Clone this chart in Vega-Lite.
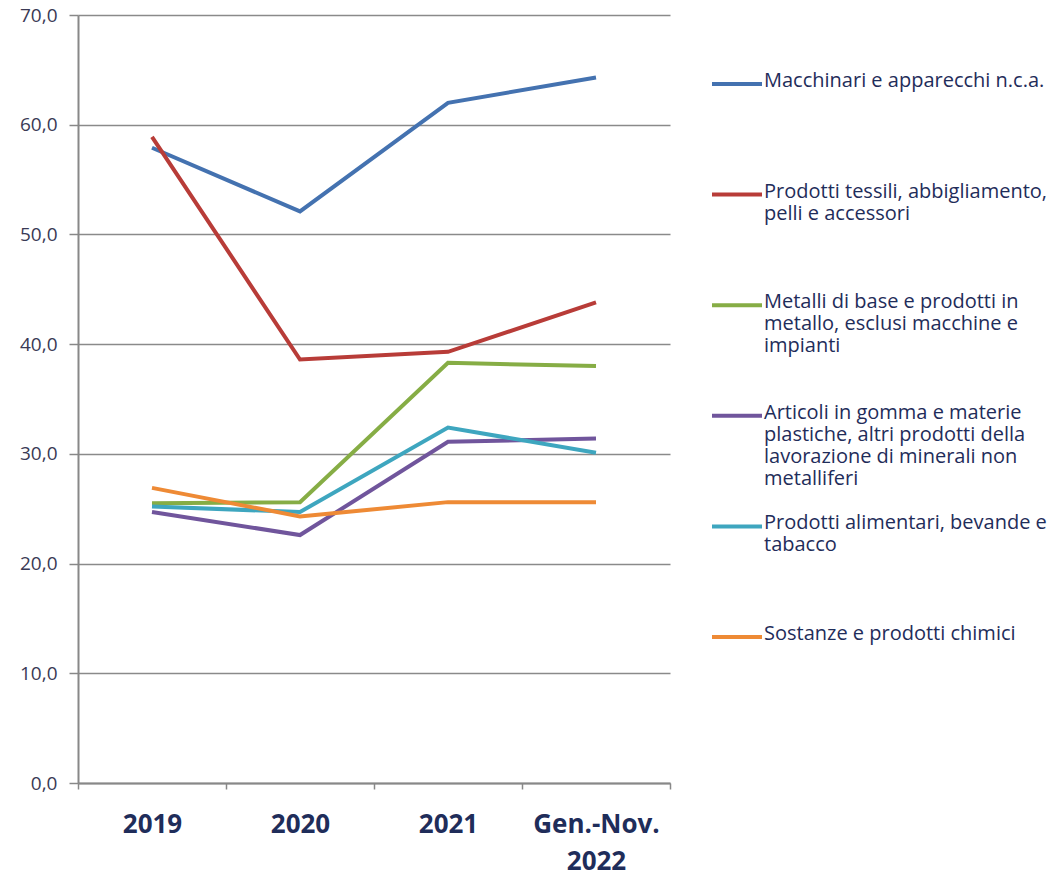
{
  "$schema": "https://vega.github.io/schema/vega-lite/v6.json",
  "width": 592,
  "height": 768,
  "autosize": {"type": "none"},
  "padding": {"left": 78, "top": 15, "right": 385, "bottom": 94},
  "background": "white",
  "config": {
    "view": {"stroke": null},
    "font": "Open Sans"
  },
  "data": {
    "values": [
      {"anno": "2019", "settore": "Macchinari e apparecchi n.c.a.", "valore": 57.9},
      {"anno": "2020", "settore": "Macchinari e apparecchi n.c.a.", "valore": 52.1},
      {"anno": "2021", "settore": "Macchinari e apparecchi n.c.a.", "valore": 62.0},
      {"anno": "Gen.-Nov. 2022", "settore": "Macchinari e apparecchi n.c.a.", "valore": 64.3},
      {"anno": "2019", "settore": "Prodotti tessili, abbigliamento, pelli e accessori", "valore": 58.9},
      {"anno": "2020", "settore": "Prodotti tessili, abbigliamento, pelli e accessori", "valore": 38.6},
      {"anno": "2021", "settore": "Prodotti tessili, abbigliamento, pelli e accessori", "valore": 39.3},
      {"anno": "Gen.-Nov. 2022", "settore": "Prodotti tessili, abbigliamento, pelli e accessori", "valore": 43.8},
      {"anno": "2019", "settore": "Metalli di base e prodotti in metallo, esclusi macchine e impianti", "valore": 25.5},
      {"anno": "2020", "settore": "Metalli di base e prodotti in metallo, esclusi macchine e impianti", "valore": 25.6},
      {"anno": "2021", "settore": "Metalli di base e prodotti in metallo, esclusi macchine e impianti", "valore": 38.3},
      {"anno": "Gen.-Nov. 2022", "settore": "Metalli di base e prodotti in metallo, esclusi macchine e impianti", "valore": 38.0},
      {"anno": "2019", "settore": "Articoli in gomma e materie plastiche, altri prodotti della lavorazione di minerali non metalliferi", "valore": 24.7},
      {"anno": "2020", "settore": "Articoli in gomma e materie plastiche, altri prodotti della lavorazione di minerali non metalliferi", "valore": 22.6},
      {"anno": "2021", "settore": "Articoli in gomma e materie plastiche, altri prodotti della lavorazione di minerali non metalliferi", "valore": 31.1},
      {"anno": "Gen.-Nov. 2022", "settore": "Articoli in gomma e materie plastiche, altri prodotti della lavorazione di minerali non metalliferi", "valore": 31.4},
      {"anno": "2019", "settore": "Prodotti alimentari, bevande e tabacco", "valore": 25.2},
      {"anno": "2020", "settore": "Prodotti alimentari, bevande e tabacco", "valore": 24.7},
      {"anno": "2021", "settore": "Prodotti alimentari, bevande e tabacco", "valore": 32.4},
      {"anno": "Gen.-Nov. 2022", "settore": "Prodotti alimentari, bevande e tabacco", "valore": 30.1},
      {"anno": "2019", "settore": "Sostanze e prodotti chimici", "valore": 26.9},
      {"anno": "2020", "settore": "Sostanze e prodotti chimici", "valore": 24.3},
      {"anno": "2021", "settore": "Sostanze e prodotti chimici", "valore": 25.6},
      {"anno": "Gen.-Nov. 2022", "settore": "Sostanze e prodotti chimici", "valore": 25.6}
    ]
  },
  "mark": {"type": "line", "strokeWidth": 4, "strokeJoin": "miter"},
  "encoding": {
    "x": {
      "field": "anno",
      "type": "ordinal",
      "bandPosition": 0.5,
      "sort": ["2019", "2020", "2021", "Gen.-Nov. 2022"],
      "scale": {"type": "band", "paddingInner": 0, "paddingOuter": 0},
      "axis": {
        "title": null,
        "labelAngle": 0,
        "tickBand": "extent",
        "domainColor": "#888888",
        "domainWidth": 2,
        "tickColor": "#888888",
        "tickWidth": 1.5,
        "tickSize": 6,
        "labelFont": "Open Sans",
        "labelFontSize": 26,
        "labelFontWeight": "bold",
        "labelColor": "#1f2d5a",
        "labelPadding": 22,
        "labelLineHeight": 37,
        "labelBaseline": "top",
        "labelExpr": "datum.value == 'Gen.-Nov. 2022' ? ['Gen.-Nov.', '2022'] : datum.label",
        "grid": false
      }
    },
    "y": {
      "field": "valore",
      "type": "quantitative",
      "scale": {"domain": [0, 70], "nice": false},
      "axis": {
        "title": null,
        "values": [0, 10, 20, 30, 40, 50, 60, 70],
        "labelExpr": "replace(format(datum.value, '.1f'), '.', ',')",
        "labelFont": "Open Sans",
        "labelFontSize": 19,
        "labelColor": "#3a3a55",
        "labelPadding": 12,
        "tickSize": 9,
        "tickColor": "#888888",
        "tickWidth": 1.5,
        "domainColor": "#888888",
        "domainWidth": 2,
        "grid": true,
        "gridColor": "#8a8a8a",
        "gridWidth": 1.5
      }
    },
    "color": {
      "field": "settore",
      "type": "nominal",
      "scale": {
        "domain": [
          "Macchinari e apparecchi n.c.a.",
          "Prodotti tessili, abbigliamento, pelli e accessori",
          "Metalli di base e prodotti in metallo, esclusi macchine e impianti",
          "Articoli in gomma e materie plastiche, altri prodotti della lavorazione di minerali non metalliferi",
          "Prodotti alimentari, bevande e tabacco",
          "Sostanze e prodotti chimici"
        ],
        "range": ["#4472b0", "#b83c38", "#86ad45", "#70559c", "#3ea6bf", "#ee8a35"]
      },
      "legend": {
        "title": null,
        "orient": "none",
        "legendX": 632,
        "legendY": 42,
        "symbolType": "stroke",
        "symbolStrokeWidth": 4,
        "symbolSize": 2500,
        "labelFont": "Open Sans",
        "labelFontSize": 20,
        "labelColor": "#1f2d5a",
        "labelLimit": 0,
        "labelOffset": 0,
        "labelBaseline": "top",
        "labelLineHeight": 26,
        "gridAlign": "all",
        "rowPadding": 10.6,
        "labelExpr": "datum.label == 'Prodotti tessili, abbigliamento, pelli e accessori' ? ['Prodotti tessili, abbigliamento,', 'pelli e accessori'] : datum.label == 'Metalli di base e prodotti in metallo, esclusi macchine e impianti' ? ['Metalli di base e prodotti in', 'metallo, esclusi macchine e', 'impianti'] : datum.label == 'Articoli in gomma e materie plastiche, altri prodotti della lavorazione di minerali non metalliferi' ? ['Articoli in gomma e materie', 'plastiche, altri prodotti della', 'lavorazione di minerali non', 'metalliferi'] : datum.label == 'Prodotti alimentari, bevande e tabacco' ? ['Prodotti alimentari, bevande e', 'tabacco'] : datum.label",
        "encode": {
          "labels": {"update": {"dy": {"value": -13}}}
        }
      }
    }
  }
}
